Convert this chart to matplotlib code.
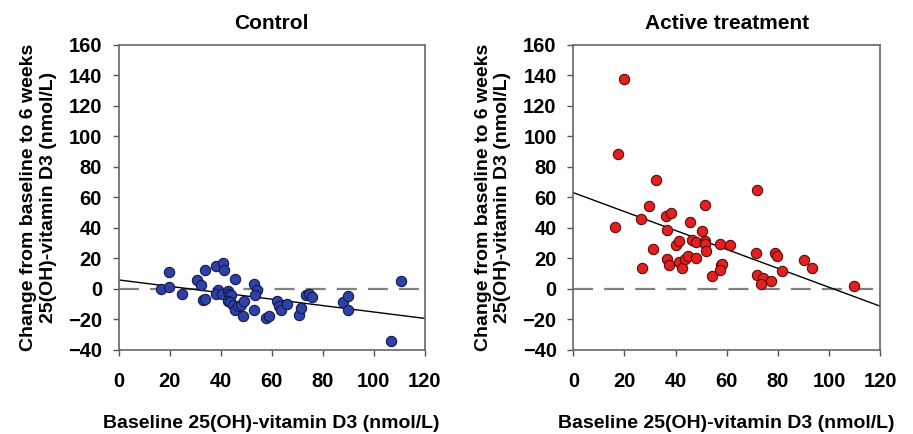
import numpy as np
import matplotlib.pyplot as plt

plt.rcParams['font.family'] = ['Liberation Sans', 'DejaVu Sans']
plt.rcParams['font.weight'] = 'bold'

# Control group: baseline vs change
ctrl_x = [16.5, 19.9, 19.7, 24.7, 30.8, 32.2, 33.0, 33.9, 34.0, 38.2, 40.8, 41.2,
          38.9, 38.2, 40.4, 42.7, 43.2, 44.0, 42.8, 43.6, 44.7, 45.7, 45.7, 46.8,
          48.1, 49.2, 48.6, 52.9, 53.1, 54.2, 53.4, 57.7, 59.0, 62.2, 63.0, 63.7,
          66.1, 70.7, 71.7, 73.3, 74.6, 75.9, 88.0, 90.0, 90.1, 106.7, 110.6]
ctrl_y = [0.0, 10.9, 1.1, -3.7, 5.5, 2.8, -7.4, -6.6, 12.0, 14.9, 16.6, 12.2,
          -0.9, -3.7, -3.7, -1.5, -3.1, -4.2, -8.3, -8.7, -10.9, -13.6, 6.3, -11.4,
          -10.9, -8.3, -18.1, -13.8, 3.3, -0.7, -4.2, -19.0, -17.9, -8.3, -11.4, -13.8,
          -9.8, -17.0, -12.5, -4.4, -3.1, -5.2, -8.7, -4.8, -14.0, -34.1, 5.2]

# Active treatment group
act_x = [20.0, 17.6, 32.2, 16.3, 26.4, 29.7, 26.8, 31.0, 36.3, 38.3, 36.8, 36.7,
         37.5, 40.0, 41.5, 41.3, 42.6, 43.6, 44.8, 45.8, 46.5, 47.8, 48.0, 50.4,
         51.6, 51.6, 51.4, 51.7, 54.3, 57.3, 57.6, 58.2, 57.2, 61.2, 72.0, 71.4,
         78.9, 79.5, 90.2, 93.2, 81.8, 72.0, 74.2, 77.2, 73.4, 109.6]
act_y = [137.5, 88.5, 71.0, 40.7, 45.7, 54.1, 13.4, 26.0, 47.6, 50.0, 38.5, 19.5,
         15.6, 28.6, 31.0, 17.7, 13.4, 19.7, 21.6, 43.5, 32.0, 30.7, 20.1, 38.1,
         54.8, 31.0, 29.4, 24.9, 8.2, 29.2, 15.8, 16.2, 12.6, 28.4, 64.5, 23.6,
         23.6, 21.2, 18.8, 13.8, 11.6, 8.8, 7.2, 5.0, 3.3, 1.5]

# fitted lines (intercept, slope)
ctrl_fit = (5.8, -0.21)
act_fit = (63.0, -0.62)

xticks = [0, 20, 40, 60, 80, 100, 120]
yticks = [-40, -20, 0, 20, 40, 60, 80, 100, 120, 140, 160]

fig = plt.figure(figsize=(9.13, 4.34), dpi=100)
ax1 = fig.add_axes([0.130, 0.194, 0.335, 0.703])
ax2 = fig.add_axes([0.628, 0.194, 0.336, 0.703])

panels = [(ax1, ctrl_x, ctrl_y, ctrl_fit, '#3040a6', '#101a50', 'Control'),
          (ax2, act_x, act_y, act_fit, '#e32020', '#5a0a0a', 'Active treatment')]

for ax, xs, ys, fit, fc, ec, title in panels:
    ax.axhline(0, color='#808080', lw=1.6, ls=(0, (9, 5)), zorder=1)
    lx = np.array([0, 120])
    ax.plot(lx, fit[0] + fit[1] * lx, color='black', lw=1.0, zorder=2)
    ax.scatter(xs, ys, s=55, c=fc, edgecolors=ec, linewidths=0.8, zorder=3)
    ax.set_xlim(0, 120)
    ax.set_ylim(-40, 160)
    ax.set_xticks(xticks)
    ax.set_yticks(yticks)
    ax.tick_params(direction='out', length=4, width=1, colors='#555555',
                   labelcolor='black', labelsize=14.5)
    ax.tick_params(axis='x', pad=12)
    ax.tick_params(axis='y', pad=8)
    for sp in ax.spines.values():
        sp.set_color('#666666')
        sp.set_linewidth(1.2)
    ax.set_title(title, fontsize=15, fontweight='bold', pad=11)
    ax.set_xlabel('Baseline 25(OH)-vitamin D3 (nmol/L)', fontsize=14,
                  fontweight='bold', labelpad=17)
    ax.set_ylabel('Change from baseline to 6 weeks\n25(OH)-vitamin D3 (nmol/L)',
                  fontsize=14, fontweight='bold', labelpad=8, linespacing=1.2)

fig.savefig('out.png', dpi=100)
